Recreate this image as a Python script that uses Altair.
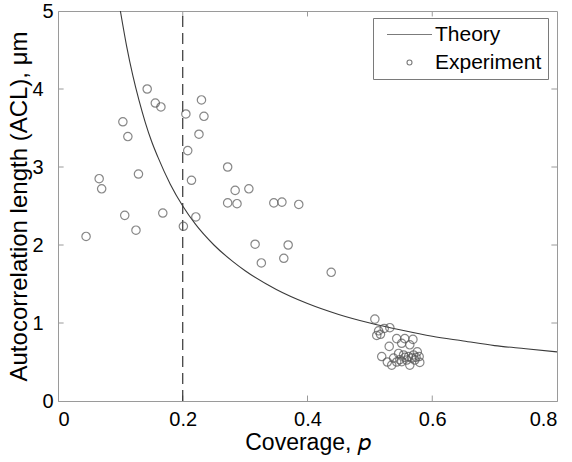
import altair as alt
import pandas as pd

# Theory curve
theory_p = [0.10, 0.11, 0.12, 0.13, 0.14, 0.15, 0.16, 0.18, 0.20, 0.22, 0.25, 0.28,
            0.30, 0.35, 0.40, 0.45, 0.50, 0.55, 0.60, 0.65, 0.70, 0.75, 0.80]
theory_acl = [5.00, 4.55, 4.17, 3.85, 3.57, 3.33, 3.13, 2.78, 2.50, 2.27, 2.00, 1.79,
              1.67, 1.43, 1.25, 1.11, 1.00, 0.91, 0.83, 0.77, 0.71, 0.67, 0.63]

# Experiment points
exp_p = [0.143, 0.156, 0.165, 0.230, 0.104, 0.205, 0.234, 0.112, 0.226, 0.208, 0.272, 0.066,
         0.129, 0.214, 0.070, 0.284, 0.272, 0.287, 0.107, 0.168, 0.221, 0.125, 0.201, 0.045,
         0.306, 0.346, 0.359, 0.386, 0.316, 0.369, 0.326, 0.362, 0.438,
         0.508, 0.514, 0.511, 0.523, 0.532, 0.517, 0.531, 0.543, 0.556, 0.569, 0.551, 0.564,
         0.519, 0.528, 0.538, 0.546, 0.554, 0.562, 0.570, 0.579, 0.543, 0.559, 0.572, 0.551,
         0.564, 0.580, 0.576, 0.535, 0.567, 0.574, 0.556, 0.548]
exp_acl = [4.00, 3.82, 3.77, 3.86, 3.58, 3.68, 3.65, 3.39, 3.42, 3.21, 3.00, 2.85,
           2.91, 2.83, 2.72, 2.70, 2.54, 2.53, 2.38, 2.41, 2.36, 2.19, 2.24, 2.11,
           2.72, 2.54, 2.55, 2.52, 2.01, 2.00, 1.77, 1.83, 1.65,
           1.05, 0.90, 0.84, 0.93, 0.94, 0.855, 0.70, 0.80, 0.80, 0.79, 0.74, 0.72,
           0.57, 0.50, 0.55, 0.61, 0.59, 0.57, 0.59, 0.57, 0.50, 0.525, 0.525, 0.505,
           0.46, 0.495, 0.63, 0.46, 0.55, 0.56, 0.56, 0.53]

threshold_p = [0.2]
x_ticks = [0.2, 0.4, 0.6]
y_ticks = [1, 2, 3, 4]
series_names = ["Theory", "Experiment"]

FONT = "Liberation Sans"
GRAY = "#9a9a9a"

theory_df = pd.DataFrame({"p": theory_p, "acl": theory_acl, "series": "Theory"})
exp_df = pd.DataFrame({"p": exp_p, "acl": exp_acl, "series": "Experiment"})
thr_df = pd.DataFrame({"p": threshold_p})
xt_df = pd.DataFrame({"p": x_ticks})
yt_df = pd.DataFrame({"acl": y_ticks})

xs = alt.Scale(domain=[0, 0.8], nice=False, zero=False)
ys = alt.Scale(domain=[0, 5], nice=False, zero=False)

x_axis = alt.Axis(title="Coverage, 𝑝", values=[0, 0.2, 0.4, 0.6, 0.8],
                  labelExpr="datum.value == 0 ? '0' : format(datum.value, '.1f')",
                  grid=False, ticks=False, labelPadding=8, titlePadding=2, titleFontSize=23)
y_axis = alt.Axis(title="Autocorrelation length (ACL), μm", values=[0, 1, 2, 3, 4, 5],
                  labelExpr="format(datum.value, 'd')",
                  grid=False, ticks=False,
                  labelPadding={"condition": {"test": "datum.value == 0 || datum.value == 5", "value": 5},
                                "value": 15},
                  titlePadding=0, titleFontSize=24)

X = alt.X("p:Q", scale=xs, axis=x_axis)
Y = alt.Y("acl:Q", scale=ys, axis=y_axis)

theory = alt.Chart(theory_df).mark_line(color="#3a3a3a", strokeWidth=1.1, clip=True,
                                        interpolate="monotone").encode(x=X, y=Y)

points = alt.Chart(exp_df).mark_point(filled=False, color="#555555", strokeWidth=1.2, size=70).encode(
    x=X, y=Y,
    shape=alt.Shape("series:N",
                    scale=alt.Scale(domain=series_names, range=["M-9,0H9", "circle"]),
                    legend=alt.Legend(title=None, orient="none", legendX=315, legendY=7,
                                      padding=6, strokeColor="#7a7a7a", fillColor="white",
                                      labelFontSize=21, labelFont=FONT, labelColor="black",
                                      labelOffset=15, rowPadding=6, symbolOffset=20,
                                      symbolSize=25,
                                      symbolStrokeColor="#444444", symbolStrokeWidth=1.1,
                                      symbolFillColor="transparent")),
)

dashed = alt.Chart(thr_df).mark_rule(color="#222222", strokeWidth=1.1, strokeDash=[11, 6]).encode(
    x=X, y=alt.datum(0), y2=alt.datum(5))

tick_bottom = alt.Chart(xt_df).mark_rule(color=GRAY).encode(x=X, y=alt.datum(0), y2=alt.datum(0.07))
tick_top = alt.Chart(xt_df).mark_rule(color=GRAY).encode(x=X, y=alt.datum(5), y2=alt.datum(4.93))
tick_left = alt.Chart(yt_df).mark_rule(color=GRAY).encode(y=Y, x=alt.datum(0), x2=alt.datum(0.009))
tick_right = alt.Chart(yt_df).mark_rule(color=GRAY).encode(y=Y, x=alt.datum(0.8), x2=alt.datum(0.791))

chart = alt.layer(tick_bottom, tick_top, tick_left, tick_right, dashed, theory, points).properties(
    width=499, height=390,
    background="white",
    autosize=alt.AutoSizeParams(type="none"),
    padding={"left": 58, "top": 11, "right": 15, "bottom": 61},
).configure_view(
    stroke=GRAY, strokeWidth=1
).configure_axis(
    domainColor=GRAY, domainWidth=1,
    labelFont=FONT, labelFontSize=20, labelColor="black",
    titleFont=FONT, titleColor="black", titleFontWeight="normal",
)

chart.save("out.html", embed_options={"renderer": "svg", "actions": False})
